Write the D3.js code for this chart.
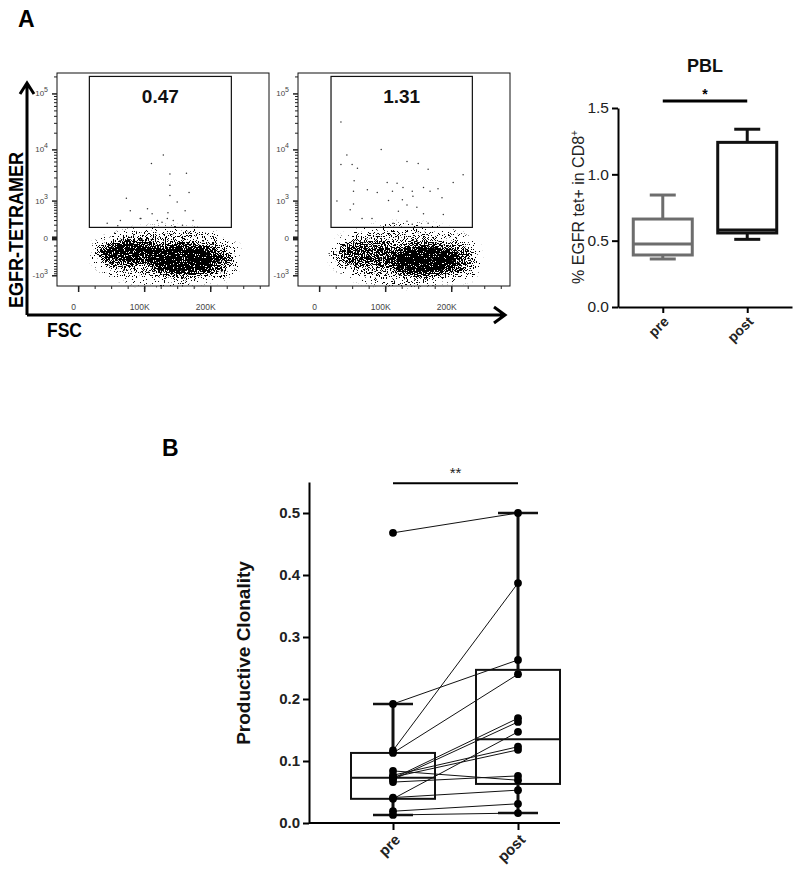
<!DOCTYPE html>
<html>
<head>
<meta charset="utf-8">
<script src="https://cdn.jsdelivr.net/npm/d3@7"></script>
<style>
  body { margin: 0; background: #fff; }
  svg { display: block; font-family: Arial, "Liberation Sans", sans-serif; }
</style>
</head>
<body>
<svg></svg>
<script>
const [width, height] = [800, 874];

// ---- panel A : flow plots (FSC in K, tetramer in fluorescence units) ----
const gatePct = ["0.47", "1.31"];
const gateFsc = [[17, 232], [18, 232]];
const gateTet = [150, 200000];
const fscDomain = [-32, 289];
const tetDomain = [-1700, 230000];
const fscTicks = [0, 100, 200];
const tetTicks = [-1000, 0, 1000, 10000, 100000];
const tetMinor = [-900, -800, -700, -600, -500, -400, -300, -200, -100, 100, 200, 300, 400, 500, 600, 700, 800, 900,
  2000, 3000, 4000, 5000, 6000, 7000, 8000, 9000, 20000, 30000, 40000, 50000, 60000, 70000, 80000, 90000, 200000];

// population outlines: [fscLo, fscHi, tetLo, tetHi, density]
const cloud1 = [
  [29, 238, -1300, 80, 0.35],
  [29, 132, -520, -25, 0.85],
  [109, 208, -950, -90, 1],
  [170, 235, -1000, -150, 0.5]
];
const cloud2 = [
  [24, 236, -1350, 130, 0.3],
  [27, 115, -620, -40, 0.55],
  [105, 211, -1050, -90, 1],
  [183, 236, -1050, -170, 0.45]
];
// sparse events in the gate: [fsc, tet]
const events1 = [
  [129, 7900], [111, 5500], [139, 3500], [164, 3600], [139, 2100], [168, 1500], [139, 1300], [73, 1130],
  [150, 930], [105, 640], [79, 570], [112, 470], [64, 290], [135, 340], [144, 290], [127, 250], [174, 290],
  [94, 340], [162, 570], [120, 290], [158, 190], [44, 230], [95, 340], [136, 500], [60, 180]
];
const events2 = [
  [33, 31000], [94, 10000], [42, 7900], [33, 5300], [50, 5300], [58, 4500], [53, 2600], [133, 6000],
  [150, 5500], [165, 4300], [218, 3400], [203, 2400], [180, 1800], [118, 2300], [127, 1900], [103, 2400],
  [52, 1600], [73, 1700], [88, 1500], [27, 980], [52, 830], [111, 1600], [142, 1250], [158, 1900],
  [141, 1600], [168, 1600], [186, 1150], [126, 1050], [105, 1000], [133, 790], [148, 700], [158, 470],
  [65, 340], [80, 340], [112, 230], [133, 270], [141, 210], [165, 230], [47, 600], [188, 450], [120, 550]
];

// ---- panel A : PBL box plot ----
const pblGroups = ["pre", "post"];
const pblMin = [0.362, 0.51];
const pblQ1 = [0.392, 0.558];
const pblMed = [0.475, 0.58];
const pblQ3 = [0.663, 1.241];
const pblMax = [0.844, 1.34];
const pblColor = ["#6d6d6d", "#111"];

// ---- panel B : productive clonality ----
const cloneGroups = ["pre", "post"];
const clonePre = [0.468, 0.192, 0.117, 0.113, 0.072, 0.070, 0.039, 0.077, 0.074, 0.084, 0.066, 0.041, 0.019, 0.013];
const clonePost = [0.500, 0.263, 0.387, 0.240, 0.169, 0.163, 0.147, 0.123, 0.118, 0.069, 0.076, 0.053, 0.031, 0.016];
const cloneMin = [0.013, 0.016];
const cloneQ1 = [0.039, 0.063];
const cloneMed = [0.073, 0.135];
const cloneQ3 = [0.113, 0.247];
const cloneMax = [0.192, 0.500];

const svg = d3.select("svg").attr("width", width).attr("height", height);
svg.append("rect").attr("width", width).attr("height", height).attr("fill", "#fff");
const defs = svg.append("defs");

// speckle texture for the dense event cloud
function speckle(id, seed) {
  const f = defs.append("filter").attr("id", id)
    .attr("x", "-20%").attr("y", "-60%").attr("width", "140%").attr("height", "220%")
    .attr("color-interpolation-filters", "sRGB");
  f.append("feGaussianBlur").attr("in", "SourceAlpha").attr("stdDeviation", 4.5).attr("result", "dens");
  f.append("feTurbulence").attr("type", "fractalNoise").attr("baseFrequency", 0.9)
    .attr("numOctaves", 2).attr("seed", seed).attr("result", "noise");
  f.append("feColorMatrix").attr("in", "noise").attr("type", "matrix")
    .attr("values", "0 0 0 0 0  0 0 0 0 0  0 0 0 0 0  2.6 0 0 0 -0.8").attr("result", "na");
  f.append("feComposite").attr("in", "dens").attr("in2", "na").attr("operator", "arithmetic")
    .attr("k1", 0).attr("k2", 1).attr("k3", -1).attr("k4", 0).attr("result", "diff");
  f.append("feComponentTransfer").attr("in", "diff")
    .append("feFuncA").attr("type", "linear").attr("slope", 25).attr("intercept", 0);
}
speckle("speck0", 3);
speckle("speck1", 11);

const flowLeft = [57, 298];
const flowTop = 73, flowW = 212, flowH = 213;

function flowPlot(i, cloud, events) {
  const x0 = flowLeft[i];
  const x = d3.scaleLinear().domain(fscDomain).range([x0, x0 + flowW]);
  const y = d3.scaleSymlog().constant(280).domain(tetDomain).range([flowTop + flowH, flowTop]);
  const g = svg.append("g");

  g.append("g").attr("filter", `url(#speck${i})`)
    .selectAll("ellipse").data(cloud).join("ellipse")
    .attr("cx", d => (x(d[0]) + x(d[1])) / 2)
    .attr("rx", d => (x(d[1]) - x(d[0])) / 2)
    .attr("cy", d => (y(d[2]) + y(d[3])) / 2)
    .attr("ry", d => (y(d[2]) - y(d[3])) / 2)
    .attr("fill", "#000").attr("fill-opacity", d => d[4]);

  g.selectAll("circle.ev").data(events).join("circle").attr("class", "ev")
    .attr("cx", d => x(d[0])).attr("cy", d => y(d[1])).attr("r", 0.75).attr("fill", "#333");

  g.append("rect").attr("x", x0).attr("y", flowTop).attr("width", flowW).attr("height", flowH)
    .attr("fill", "none").attr("stroke", "#111").attr("stroke-width", 1);

  const gx0 = x(gateFsc[i][0]), gx1 = x(gateFsc[i][1]);
  const gy0 = y(gateTet[1]), gy1 = y(gateTet[0]);
  g.append("rect").attr("x", gx0).attr("y", gy0).attr("width", gx1 - gx0).attr("height", gy1 - gy0)
    .attr("fill", "none").attr("stroke", "#111").attr("stroke-width", 1.2);
  g.append("text").text(gatePct[i]).attr("x", (gx0 + gx1) / 2).attr("y", gy0 + 27)
    .attr("text-anchor", "middle").attr("font-size", 19).attr("font-weight", "bold").attr("fill", "#111");

  // x axis
  g.append("g").attr("transform", `translate(0,${flowTop + flowH})`)
    .call(d3.axisBottom(x).tickValues(d3.range(0, 276, 25)).tickSize(3).tickFormat(""))
    .call(a => a.select(".domain").remove())
    .call(a => a.selectAll("line").attr("stroke", "#222"));
  g.append("g").attr("transform", `translate(0,${flowTop + flowH})`)
    .call(d3.axisBottom(x).tickValues(fscTicks).tickSize(6).tickPadding(12)
      .tickFormat(d => d === 0 ? "0" : d + "K"))
    .call(a => a.select(".domain").remove())
    .call(a => a.selectAll("line").attr("stroke", "#222").attr("stroke-width", 1.5))
    .call(a => a.selectAll("text").attr("x", -5).attr("font-size", 8.5).attr("fill", "#444")
      .attr("font-family", "Arial, 'Liberation Sans', sans-serif"));

  // y axis
  g.append("g").attr("transform", `translate(${x0},0)`)
    .call(d3.axisLeft(y).tickValues(tetMinor).tickSize(3).tickFormat(""))
    .call(a => a.select(".domain").remove())
    .call(a => a.selectAll("line").attr("stroke", "#222"));
  g.append("g").attr("transform", `translate(${x0},0)`)
    .call(d3.axisLeft(y).tickValues(tetTicks).tickSize(5).tickFormat(""))
    .call(a => a.select(".domain").remove())
    .call(a => a.selectAll("line").attr("stroke", "#222").attr("stroke-width", d => d === 0 ? 4 : 1.5));

  const lab = g.selectAll("text.tl").data(tetTicks).join("text").attr("class", "tl")
    .attr("x", x0 - 9).attr("y", d => y(d) + 3).attr("text-anchor", "end")
    .attr("font-size", 8).attr("fill", "#444");
  lab.each(function(d) {
    const t = d3.select(this);
    if (d === 0) { t.text("0"); return; }
    t.append("tspan").text(d < 0 ? "-10" : "10");
    t.append("tspan").attr("dy", -4.5).attr("font-size", 7).text(Math.round(Math.log10(Math.abs(d))));
  });
}
flowPlot(0, cloud1, events1);
flowPlot(1, cloud2, events2);

// big axis arrows
const arrows = svg.append("g").attr("fill", "none").attr("stroke", "#000").attr("stroke-width", 3);
arrows.append("path").attr("d", "M27,315V83M20,94L27,83L34,94");
arrows.append("path").attr("d", "M27,315H505M494,307L505,315L494,323");
svg.append("text").text("EGFR-TETRAMER").attr("transform", "translate(23,230) rotate(-90)")
  .attr("text-anchor", "middle").attr("font-size", 21).attr("font-weight", "bold")
  .attr("textLength", 156).attr("lengthAdjust", "spacingAndGlyphs");
svg.append("text").text("FSC").attr("x", 47).attr("y", 337).attr("font-size", 21).attr("font-weight", "bold")
  .attr("textLength", 35).attr("lengthAdjust", "spacingAndGlyphs");
svg.append("text").text("A").attr("x", 18).attr("y", 27).attr("font-size", 23).attr("font-weight", "bold");
svg.append("text").text("B").attr("x", 162).attr("y", 456).attr("font-size", 23).attr("font-weight", "bold");

// ---- PBL box plot ----
const yP = d3.scaleLinear().domain([0, 1.5]).range([307, 108]);
const xP = d3.scalePoint().domain(pblGroups).range([618, 792]).padding(0.53);
const gp = svg.append("g");
gp.append("g").attr("transform", "translate(618,0)")
  .call(d3.axisLeft(yP).tickValues([0, 0.5, 1, 1.5]).tickFormat(d3.format(".1f")).tickSize(6).tickSizeOuter(0))
  .call(a => a.select(".domain").attr("stroke-width", 2))
  .call(a => a.selectAll("line").attr("stroke-width", 2))
  .call(a => a.selectAll("text").attr("font-size", 15.5).attr("fill", "#222")
    .attr("font-family", "Arial, 'Liberation Sans', sans-serif"));
gp.append("g").attr("transform", "translate(0,307)")
  .call(d3.axisBottom(xP).tickSize(6).tickSizeOuter(0))
  .call(a => a.select(".domain").attr("stroke-width", 2))
  .call(a => a.selectAll("line").attr("stroke-width", 2))
  .call(a => a.selectAll("text").attr("x", 0).attr("y", 0).attr("dy", "0.35em")
    .attr("transform", "translate(3,12) rotate(-45)").attr("text-anchor", "end")
    .attr("font-size", 14).attr("font-weight", "bold").attr("fill", "#222")
    .attr("font-family", "Arial, 'Liberation Sans', sans-serif"));

const pbw = 29.5, pcap = 13;
pblGroups.forEach((grp, i) => {
  const cx = xP(grp);
  const b = gp.append("g").attr("stroke", pblColor[i]).attr("stroke-width", 3).attr("fill", "none");
  b.append("line").attr("x1", cx).attr("x2", cx).attr("y1", yP(pblQ3[i])).attr("y2", yP(pblMax[i]));
  b.append("line").attr("x1", cx).attr("x2", cx).attr("y1", yP(pblQ1[i])).attr("y2", yP(pblMin[i]));
  b.append("line").attr("x1", cx - pcap).attr("x2", cx + pcap).attr("y1", yP(pblMax[i])).attr("y2", yP(pblMax[i]));
  b.append("line").attr("x1", cx - pcap).attr("x2", cx + pcap).attr("y1", yP(pblMin[i])).attr("y2", yP(pblMin[i]));
  b.append("rect").attr("x", cx - pbw).attr("width", 2 * pbw)
    .attr("y", yP(pblQ3[i])).attr("height", yP(pblQ1[i]) - yP(pblQ3[i])).attr("fill", "#fff");
  b.append("line").attr("x1", cx - pbw).attr("x2", cx + pbw).attr("y1", yP(pblMed[i])).attr("y2", yP(pblMed[i]));
});
const pblSig = 1.552;
gp.append("line").attr("x1", xP("pre")).attr("x2", xP("post")).attr("y1", yP(pblSig)).attr("y2", yP(pblSig))
  .attr("stroke", "#000").attr("stroke-width", 3);
gp.append("text").text("*").attr("x", (xP("pre") + xP("post")) / 2).attr("y", yP(pblSig) - 2)
  .attr("text-anchor", "middle").attr("font-size", 14).attr("font-weight", "bold");
gp.append("text").text("PBL").attr("x", 705).attr("y", 72).attr("text-anchor", "middle")
  .attr("font-size", 18).attr("font-weight", "bold").attr("fill", "#111");
const pl = gp.append("text").attr("transform", "translate(584,207) rotate(-90)").attr("text-anchor", "middle")
  .attr("font-size", 16).attr("fill", "#222");
pl.append("tspan").text("% EGFR tet+ in CD8");
pl.append("tspan").attr("dy", -6).attr("font-size", 10).text("+");

// ---- panel B ----
const yB = d3.scaleLinear().domain([0, 0.55]).range([823, 482]);
const xB = d3.scalePoint().domain(cloneGroups).range([393, 518]);
const bbw = 42, bcap = 20;
const gb = svg.append("g");
gb.append("g").attr("transform", "translate(309,0)")
  .call(d3.axisLeft(yB).tickValues(d3.range(0, 0.51, 0.1)).tickFormat(d3.format(".1f")).tickSize(6).tickSizeOuter(0))
  .call(a => a.select(".domain").attr("stroke-width", 2))
  .call(a => a.selectAll("line").attr("stroke-width", 2))
  .call(a => a.selectAll("text").attr("font-size", 15).attr("font-weight", "bold").attr("fill", "#222")
    .attr("font-family", "Arial, 'Liberation Sans', sans-serif"));
gb.append("g").attr("transform", "translate(0,823)")
  .call(d3.axisBottom(xB).tickSize(7).tickSizeOuter(0))
  .call(a => a.select(".domain").remove())
  .call(a => a.selectAll("line").attr("stroke-width", 2))
  .call(a => a.selectAll("text").attr("x", 0).attr("y", 0).attr("dy", "0.35em")
    .attr("transform", "translate(4,14) rotate(-45)").attr("text-anchor", "end")
    .attr("font-size", 15).attr("font-weight", "bold").attr("fill", "#222")
    .attr("font-family", "Arial, 'Liberation Sans', sans-serif"));
gb.append("line").attr("x1", 309).attr("x2", xB("post") + bbw).attr("y1", yB(0)).attr("y2", yB(0))
  .attr("stroke", "#000").attr("stroke-width", 2);

cloneGroups.forEach((grp, i) => {
  const cx = xB(grp);
  const b = gb.append("g").attr("stroke", "#111").attr("fill", "none");
  b.append("line").attr("x1", cx).attr("x2", cx).attr("y1", yB(cloneQ3[i])).attr("y2", yB(cloneMax[i])).attr("stroke-width", 3);
  b.append("line").attr("x1", cx).attr("x2", cx).attr("y1", yB(cloneQ1[i])).attr("y2", yB(cloneMin[i])).attr("stroke-width", 3);
  b.append("line").attr("x1", cx - bcap).attr("x2", cx + bcap).attr("y1", yB(cloneMax[i])).attr("y2", yB(cloneMax[i])).attr("stroke-width", 2.5);
  b.append("line").attr("x1", cx - bcap).attr("x2", cx + bcap).attr("y1", yB(cloneMin[i])).attr("y2", yB(cloneMin[i])).attr("stroke-width", 2.5);
  b.append("rect").attr("x", cx - bbw).attr("width", 2 * bbw)
    .attr("y", yB(cloneQ3[i])).attr("height", yB(cloneQ1[i]) - yB(cloneQ3[i])).attr("stroke-width", 2);
  b.append("line").attr("x1", cx - bbw).attr("x2", cx + bbw).attr("y1", yB(cloneMed[i])).attr("y2", yB(cloneMed[i])).attr("stroke-width", 2);
});

const pairs = d3.zip(clonePre, clonePost);
gb.selectAll("line.pair").data(pairs).join("line").attr("class", "pair")
  .attr("x1", xB("pre")).attr("x2", xB("post"))
  .attr("y1", d => yB(d[0])).attr("y2", d => yB(d[1]))
  .attr("stroke", "#111").attr("stroke-width", 1);
gb.selectAll("circle.pre").data(clonePre).join("circle").attr("class", "pre")
  .attr("cx", xB("pre")).attr("cy", d => yB(d)).attr("r", 3.9).attr("fill", "#000");
gb.selectAll("circle.post").data(clonePost).join("circle").attr("class", "post")
  .attr("cx", xB("post")).attr("cy", d => yB(d)).attr("r", 3.9).attr("fill", "#000");

const cloneSig = 0.548;
gb.append("line").attr("x1", xB("pre")).attr("x2", xB("post")).attr("y1", yB(cloneSig)).attr("y2", yB(cloneSig))
  .attr("stroke", "#000").attr("stroke-width", 2);
gb.append("text").text("**").attr("x", (xB("pre") + xB("post")) / 2).attr("y", yB(cloneSig) - 5)
  .attr("text-anchor", "middle").attr("font-size", 15).attr("fill", "#222");
gb.append("text").text("Productive Clonality").attr("transform", "translate(250,653) rotate(-90)")
  .attr("text-anchor", "middle").attr("font-size", 19).attr("font-weight", "bold").attr("fill", "#111");
</script>
</body>
</html>
